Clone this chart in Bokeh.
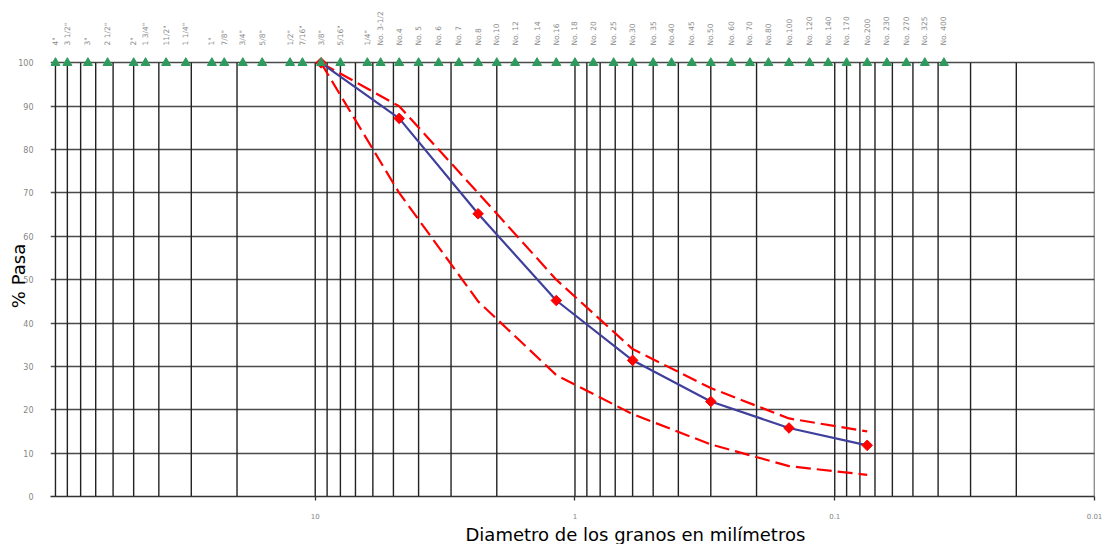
import math
from bokeh.plotting import figure
from bokeh.models import (Range1d, FixedTicker, Title, LogAxis, CustomJSTickFormatter)
from bokeh.embed import file_html
from bokeh.resources import INLINE

# ---- data ----
sieve_labels = ['4"', '3 1/2"', '3"', '2 1/2"', '2"', '1 3/4"', '11/2"', '1 1/4"', '1"', '7/8"',
                '3/4"', '5/8"', '1/2"', '7/16"', '3/8"', '5/16"', '1/4"', 'No. 3-1/2', 'No.4',
                'No. 5', 'No. 6', 'No. 7', 'No.8', 'No.10', 'No. 12', 'No. 14', 'No.16', 'No. 18',
                'No. 20', 'No. 25', 'No.30', 'No. 35', 'No.40', 'No. 45', 'No.50', 'No. 60',
                'No. 70', 'No.80', 'No.100', 'No. 120', 'No. 140', 'No. 170', 'No.200', 'No. 230',
                'No. 270', 'No. 325', 'No. 400']
sieve_mm = [100, 90, 75, 63, 50, 45, 37.5, 31.5, 25, 22.4, 19, 16, 12.5, 11.2, 9.5, 8.0, 6.3,
            5.6, 4.75, 4.0, 3.35, 2.8, 2.36, 2.0, 1.7, 1.4, 1.18, 1.0, 0.85, 0.71, 0.6, 0.5,
            0.425, 0.355, 0.3, 0.25, 0.212, 0.18, 0.15, 0.125, 0.106, 0.09, 0.075, 0.063,
            0.053, 0.045, 0.038]

curve_mm = [9.5, 4.75, 2.36, 1.18, 0.6, 0.3, 0.15, 0.075]
passing = [100, 87.2, 65.2, 45.2, 31.4, 21.9, 15.8, 11.8]
upper_limit = [100, 90, 70, 50, 34, 25, 18, 15]
lower_limit = [100, 70, 45, 28, 19, 12, 7, 5]

y_ticks = [0, 10, 20, 30, 40, 50, 60, 70, 80, 90, 100]
x_ticks = [10, 1, 0.1, 0.01]

x_title = "Diametro de los granos en milímetros"
y_title = "% Pasa"

# ---- figure ----
p = figure(width=1112, height=544, x_axis_type="log",
           x_range=Range1d(104.5, 0.01), y_range=Range1d(0, 101.7),
           output_backend="svg", toolbar_location=None,
           min_border_left=50, min_border_right=18, min_border_top=55, min_border_bottom=45)
p.outline_line_color = None
p.background_fill_color = "white"
p.border_fill_color = "white"

p.xgrid.visible = False
p.ygrid.ticker = FixedTicker(ticks=y_ticks)
p.ygrid.grid_line_color = "#4a4a4a"
p.ygrid.grid_line_width = 1.6

p.yaxis.ticker = FixedTicker(ticks=y_ticks)
p.yaxis.bounds = (0, 100)
p.yaxis.axis_line_color = None
p.yaxis.major_tick_line_color = None
p.yaxis.major_tick_out = 0
p.yaxis.major_tick_in = 0
p.yaxis.minor_tick_line_color = None
p.yaxis.minor_tick_out = 0
p.yaxis.minor_tick_in = 0
p.yaxis.major_label_standoff = 17
p.yaxis.major_label_text_font = "DejaVu Sans"
p.yaxis.major_label_text_font_size = "8px"
p.yaxis.major_label_text_color = "#858585"
p.yaxis.axis_label = y_title
p.yaxis.axis_label_standoff = -14
p.yaxis.axis_label_text_font = "DejaVu Sans"
p.yaxis.axis_label_text_font_size = "18px"
p.yaxis.axis_label_text_font_style = "normal"
p.yaxis.axis_label_text_color = "black"

p.xaxis.ticker = FixedTicker(ticks=x_ticks)
p.xaxis.formatter = CustomJSTickFormatter(code="return String(tick);")
p.xaxis.axis_line_color = "#333333"
p.xaxis.axis_line_width = 1.6
p.xaxis.major_tick_line_color = "#333333"
p.xaxis.major_tick_line_width = 1.3
p.xaxis.major_tick_out = 4
p.xaxis.major_tick_in = 0
p.xaxis.minor_tick_line_color = None
p.xaxis.minor_tick_out = 0
p.xaxis.major_label_standoff = 12
p.xaxis.major_label_text_font = "DejaVu Sans"
p.xaxis.major_label_text_font_size = "7px"
p.xaxis.major_label_text_color = "#858585"

# sieve names as tick labels of an axis above the plot
top_axis = LogAxis(ticker=FixedTicker(ticks=sieve_mm),
                   formatter=CustomJSTickFormatter(
                       args=dict(vals=sieve_mm, labs=sieve_labels),
                       code="""
let best = 0, bd = 1e9;
for (let i = 0; i < vals.length; i++) {
  const d = Math.abs(Math.log(vals[i]) - Math.log(tick));
  if (d < bd) { bd = d; best = i; }
}
return labs[best];"""))
top_axis.axis_line_color = None
top_axis.major_tick_line_color = None
top_axis.major_tick_out = 0
top_axis.major_tick_in = 0
top_axis.minor_tick_line_color = None
top_axis.minor_tick_out = 0
top_axis.minor_tick_in = 0
top_axis.major_label_orientation = "vertical"
top_axis.major_label_standoff = 10
top_axis.major_label_text_font = "DejaVu Sans"
top_axis.major_label_text_font_size = "7.5px"
top_axis.major_label_text_color = "#8a8a8a"
p.add_layout(top_axis, "above")

# vertical log grid lines (1..9 x each decade), limited to 0..100 %
grid_x = [m * 10.0 ** e for e in range(-2, 2) for m in range(1, 10)] + [100.0]
p.segment(x0=grid_x, y0=[0] * len(grid_x), x1=grid_x, y1=[100] * len(grid_x),
          line_color="#222222", line_width=1.4)

# limits
p.line(curve_mm, upper_limit, line_color="#ff0000", line_width=2.2, line_dash="15 6")
p.line(curve_mm, lower_limit, line_color="#ff0000", line_width=2.2, line_dash="15 6")
# gradation curve
p.line(curve_mm, passing, line_color="#3f3f9c", line_width=2.2)
p.scatter(curve_mm, passing, marker="square", angle=math.pi / 4, size=7.5,
          fill_color="#ff0000", line_color="#ff0000")

# sieves
p.scatter(sieve_mm, [100] * len(sieve_mm), marker="triangle", size=9,
          fill_color="#2e9a5e", line_color="#2e9a5e")

p.add_layout(Title(text=x_title, align="left", offset=415, standoff=0,
                   text_font="DejaVu Sans", text_font_size="18px",
                   text_font_style="normal", text_color="black"), "below")

open("out.html", "w").write(file_html(p, INLINE))
